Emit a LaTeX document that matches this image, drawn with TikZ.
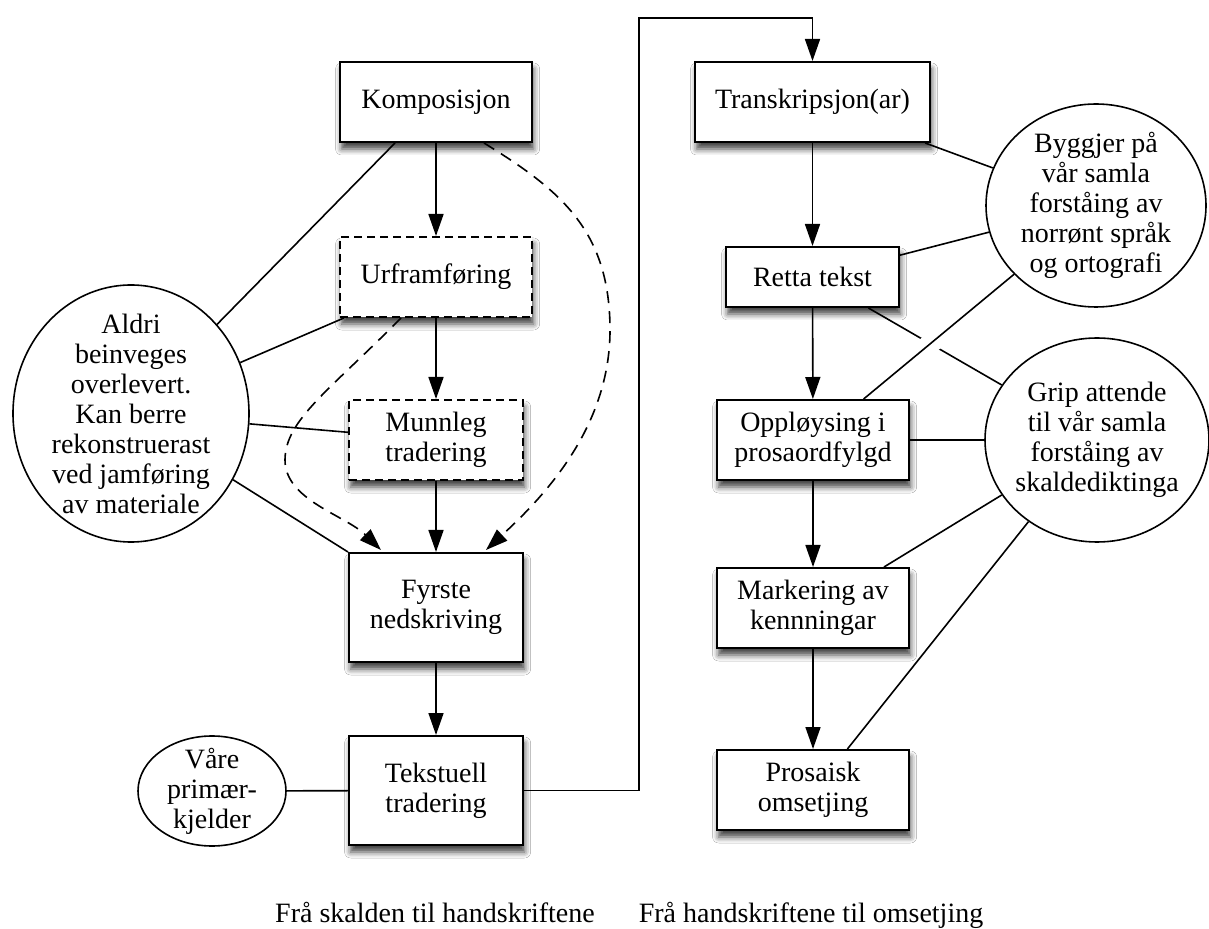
\documentclass[tikz,border=0pt]{standalone}
\usepackage{fontspec}
\setmainfont{Liberation Serif}
\usepackage{tikz}
\usetikzlibrary{arrows.meta, shapes.geometric, shadows.blur}

\tikzset{
  stage/.style={draw, line width=1pt, fill=white, align=center, inner sep=2pt,
    blur shadow={shadow xshift=0.8pt, shadow yshift=-3.5pt, shadow blur radius=3pt, shadow opacity=75}},
  lost/.style={stage, dash pattern=on 4pt off 2.5pt},
  note/.style={draw, line width=0.8pt, ellipse, inner sep=0pt},
  link/.style={line width=0.8pt},
  flow/.style={line width=0.8pt, -{Triangle[length=11pt, width=7.5pt]}},
  guess/.style={flow, dash pattern=on 6pt off 4pt},
}

\begin{document}
\begin{tikzpicture}[x=0.5pt, y=-0.5pt, font=\fontsize{14}{15}\selectfont]
            \fill[white] (0,0) rectangle (1209,929);
            \useasboundingbox (0,0) rectangle (1209,929);
            % fra skalden til handskriftene
            \node[stage, minimum width=96pt, minimum height=40pt] (komp) at (436,102) {Komposisjon};
            \node[lost, minimum width=96pt, minimum height=40pt] (urfr) at (436,277) {Urframføring};
            \node[lost, minimum width=87pt, minimum height=40pt] (munn) at (436,440) {Munnleg\\tradering};
            \node[stage, minimum width=87pt, minimum height=54.5pt] (fyrste) at (436,607.5) {Fyrste\\nedskriving};
            \node[stage, minimum width=87pt, minimum height=54.5pt] (tekst) at (436,790.5) {Tekstuell\\tradering};
            \node[note, minimum width=118pt, minimum height=128.5pt,
              label={[align=center]center:Aldri\\beinveges\\overlevert.\\Kan berre\\rekonstruerast\\ved jamføring\\av materiale}] (aldri) at (131,413.5) {};
            \node[note, minimum width=74pt, minimum height=55pt,
              label={[align=center]center:Våre\\primær-\\kjelder}] (vaare) at (212,791) {};
            % fra handskriftene til omsetjing
            \node[stage, minimum width=117.5pt, minimum height=40pt] (trans) at (812.5,102) {Transkripsjon(ar)};
            \node[stage, minimum width=86.5pt, minimum height=30pt] (retta) at (812.5,277) {Retta tekst};
            \node[stage, minimum width=96pt, minimum height=40pt] (oppl) at (813,440) {Oppløysing i\\prosaordfylgd};
            \node[stage, minimum width=96pt, minimum height=40pt] (mark) at (813,608) {Markering av\\kennningar};
            \node[stage, minimum width=96pt, minimum height=40pt] (pros) at (813,790) {Prosaisk\\omsetjing};
            \node[note, minimum width=110pt, minimum height=101.5pt,
              label={[align=center]center:Byggjer på\\vår samla\\forståing av\\norrønt språk\\og ortografi}] (bygg) at (1096,205.5) {};
            \node[note, minimum width=112pt, minimum height=102pt,
              label={[align=center]center:Grip attende\\til vår samla\\forståing av\\skaldediktinga}] (grip) at (1097,440) {};
            \coordinate (up) at (639,18);

            \draw[flow] (komp) -- (urfr);
            \draw[flow] (urfr) -- (munn);
            \draw[flow] (munn) -- (fyrste);
            \draw[flow] (fyrste) -- (tekst);
            \draw[guess] ([xshift=-17.5pt]urfr.south) .. controls (330,390) and (285,420) .. (285,460)
              .. controls (285,500) and (345,515) .. ([xshift=-27.5pt, yshift=1pt]fyrste.north);
            \draw[guess] ([xshift=24pt]komp.south) .. controls (560,190) and (610,230) .. (610,330)
              .. controls (610,430) and (540,500) .. ([xshift=25pt, yshift=1pt]fyrste.north);
            \draw[link] (komp.225) -- (aldri.46);
            \draw[link] (urfr.204) -- (aldri.25);
            \draw[link] (munn.175) -- (aldri.355);
            \draw[link] (aldri.327) -- (fyrste.north west);
            \draw[link] (vaare) -- (tekst);

            \draw[flow] (tekst.east) -| (up) -| (trans.north);
            \draw[flow] (trans) -- (retta);
            \draw[flow] (retta) -- (oppl);
            \draw[flow] (oppl) -- (mark);
            \draw[flow] (mark) -- (pros);
            \draw[link] (trans.340) -- (bygg.160);
            \draw[link] (retta.14) -- (bygg.194);
            \draw[link] (retta.331) -- (grip.150);
            \draw[link, preaction={draw, white, line width=10pt, shorten <=28pt, shorten >=28pt}] (oppl.39) -- (bygg.220);
            \draw[link] (oppl) -- (grip);
            \draw[link] (mark.30) -- (grip.210);
            \draw[link] (pros.50) -- (grip.230);

            \node[anchor=base] (skald) at (435,922) {Frå skalden til handskriftene};
            \node[anchor=base] (omset) at (811,922) {Frå handskriftene til omsetjing};
        \end{tikzpicture}
\end{document}
